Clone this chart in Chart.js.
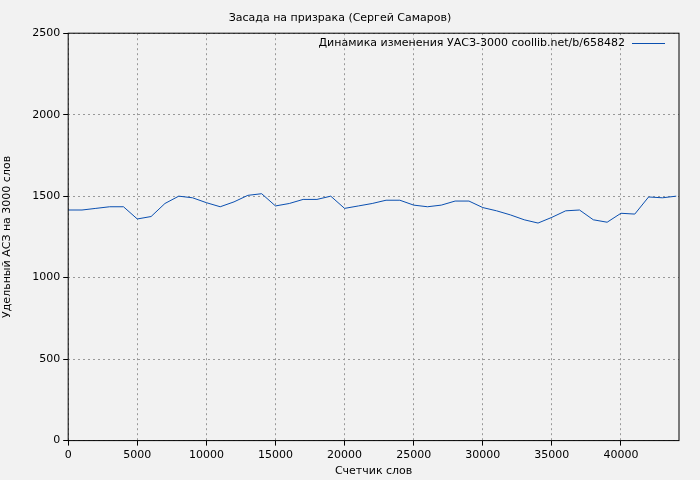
<!DOCTYPE html><html><head><script src="https://cdn.jsdelivr.net/npm/chart.js@4"></script>
<style>html,body{margin:0;background:#f2f2f2}#w{width:700px;height:480px}</style></head><body><div id="w"><canvas id="c"></canvas></div>
<script>
const xWords=[0,1000,2000,3000,4000,5000,6000,7000,8000,9000,10000,11000,12000,13000,14000,15000,16000,17000,18000,19000,20000,21000,22000,23000,24000,25000,26000,27000,28000,29000,30000,31000,32000,33000,34000,35000,36000,37000,38000,39000,40000,41000,42000,43000,44000];
const uas=[1415,1415,1425,1435,1435,1360,1375,1455,1500,1490,1460,1435,1465,1505,1515,1440,1455,1480,1480,1500,1425,1440,1455,1475,1475,1445,1435,1445,1470,1470,1430,1410,1385,1355,1335,1370,1410,1415,1355,1340,1395,1390,1495,1490,1500];
const seriesName='Динамика изменения УАСЗ-3000 coollib.net/b/658482';
const F='DejaVu Sans';
const plug={id:'p',beforeDraw(c){const x=c.ctx;x.save();x.fillStyle='#f2f2f2';x.fillRect(0,0,c.width,c.height);x.restore();},
afterDraw(c){const x=c.ctx,a=c.chartArea;x.save();x.strokeStyle='#000';x.lineWidth=1;x.strokeRect(a.left,a.top,a.right-a.left,a.bottom-a.top);
x.font='11px '+F;x.fillStyle='#000';x.textAlign='right';x.textBaseline='middle';x.fillText(seriesName,625,43);
x.strokeStyle='#0a4fb0';x.beginPath();x.moveTo(632,43.5);x.lineTo(665,43.5);x.stroke();x.restore();}};
new Chart(document.getElementById('c'),{type:'line',data:{datasets:[{data:xWords.map((v,i)=>({x:v,y:uas[i]})),borderColor:'#0a4fb0',borderWidth:1,pointRadius:0,tension:0}]},
options:{responsive:true,maintainAspectRatio:false,animation:false,layout:{padding:{top:8,right:21,left:1,bottom:2}},
plugins:{legend:{display:false},tooltip:{enabled:false},title:{display:true,text:'Засада на призрака (Сергей Самаров)',font:{family:F,size:11,weight:'normal'},color:'#000',padding:{top:4,bottom:8}}},
scales:{x:{type:'linear',min:0,max:44200,afterBuildTicks:s=>{s.ticks=[0,5000,10000,15000,20000,25000,30000,35000,40000].map(v=>({value:v}));},ticks:{autoSkip:false,color:'#000',font:{family:F,size:11},maxRotation:0,callback:v=>String(v)},grid:{color:'#999',tickColor:'#000',tickLength:5},border:{display:false,dash:[2,3]},title:{display:true,text:'Счетчик слов',color:'#000',font:{family:F,size:11},padding:0}},
y:{min:0,max:2500,ticks:{stepSize:500,color:'#000',font:{family:F,size:11},callback:v=>String(v)},grid:{color:'#999',tickColor:'#000',tickLength:5},border:{display:false,dash:[2,3]},title:{display:true,text:'Удельный АСЗ на 3000 слов',color:'#000',font:{family:F,size:11},padding:{top:0,bottom:15}}}}},plugins:[plug]});
</script></body></html>
